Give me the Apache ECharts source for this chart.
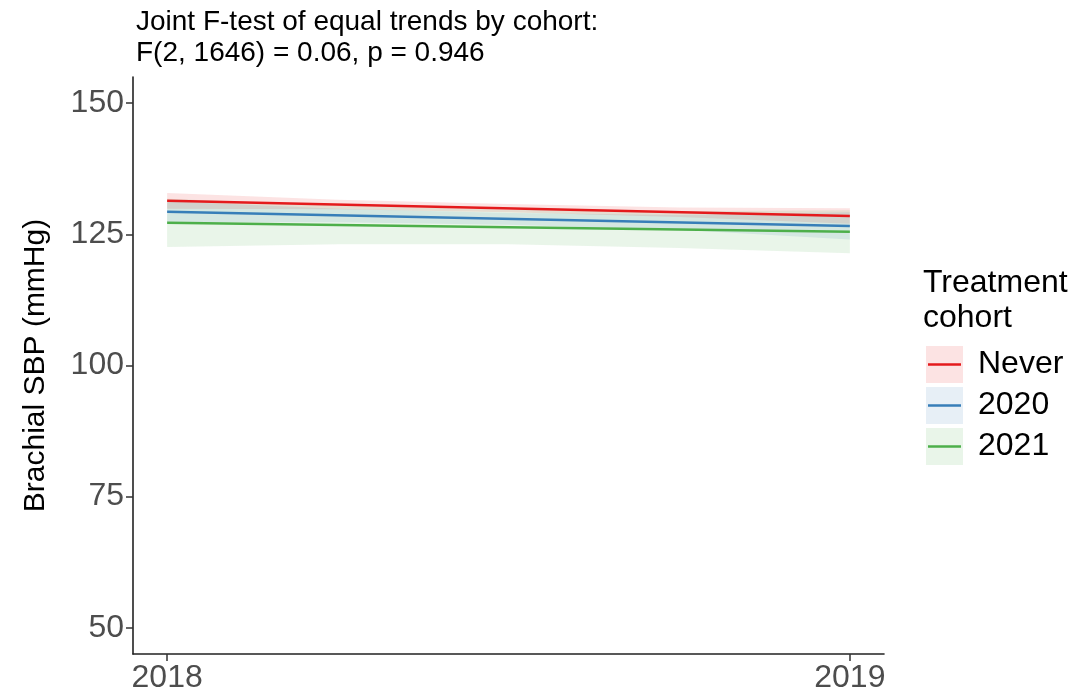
<!DOCTYPE html>
<html>
<head>
<meta charset="utf-8">
<script src="https://cdn.jsdelivr.net/npm/echarts@6/dist/echarts.min.js"></script>
<style>
html,body{margin:0;padding:0;background:#fff;}
#chart{width:1081px;height:695px;}
</style>
</head>
<body>
<div id="chart"></div>
<script>
// ---- data ----
const cohorts = ['Never', '2020', '2021'];
const colors = ['#E41A1C', '#377EB8', '#4DAF4A'];
const lineYears = [2018, 2019];
const lineNever = [131.4, 128.5];
const line2020 = [129.3, 126.6];
const line2021 = [127.2, 125.5];
const bandYears = [2018, 2018.25, 2018.5, 2018.75, 2019];
const lowerNever = [129.9, 129.8, 129.2, 128.3, 127.0];
const upperNever = [132.9, 131.6, 130.8, 130.1, 130.0];
const lower2020 = [127.3, 127.3, 126.85, 125.9, 124.0];
const upper2020 = [131.3, 129.9, 129.05, 128.7, 129.2];
const lower2021 = [122.6, 123.1, 123.1, 122.4, 121.4];
const upper2021 = [131.8, 130.5, 129.7, 129.4, 129.6];
const xTicks = [2018, 2019];
const yTicks = [50, 75, 100, 125, 150];
const titleLines = ['Joint F-test of equal trends by cohort:', 'F(2, 1646) = 0.06, p = 0.946'];
const yName = 'Brachial SBP (mmHg)';
const legendTitle = ['Treatment', 'cohort'];

const lines = [lineNever, line2020, line2021];
const lowers = [lowerNever, lower2020, lower2021];
const uppers = [upperNever, upper2020, upper2021];

function rgba(hex, a) {
  const n = parseInt(hex.slice(1), 16);
  return 'rgba(' + ((n >> 16) & 255) + ',' + ((n >> 8) & 255) + ',' + (n & 255) + ',' + a + ')';
}
const FILL_A = 0.12;
const FONT = '"Liberation Sans", Arial, Helvetica, sans-serif';

const series = [];
// confidence ribbons as polygons through the axis scales
cohorts.forEach((c, i) => {
  series.push({
    type: 'custom', name: c + '_band', silent: true, z: 1,
    data: bandYears.map((x, k) => [x, lowers[i][k], uppers[i][k]]),
    encode: { x: 0, y: [1, 2] },
    renderItem: function (params, api) {
      if (params.dataIndex !== 0) return null;
      const top = [], bot = [];
      for (let k = 0; k < bandYears.length; k++) {
        top.push(api.coord([bandYears[k], uppers[i][k]]));
        bot.push(api.coord([bandYears[k], lowers[i][k]]));
      }
      const pts = top.concat(bot.reverse());
      return {
        type: 'polygon',
        shape: { points: pts, smooth: 0 },
        style: { fill: rgba(colors[i], FILL_A), stroke: null }
      };
    }
  });
});
cohorts.forEach((c, i) => {
  series.push({
    type: 'line', name: c, silent: true,
    data: lineYears.map((x, k) => [x, lines[i][k]]),
    showSymbol: false, symbol: 'none',
    lineStyle: { color: colors[i], width: 2.6 }, z: 3
  });
});

// legend drawn as graphic
const graphics = [];
graphics.push({
  type: 'text', left: 923, top: 266,
  style: { text: legendTitle.join('\n'), font: '32px ' + FONT, fill: '#000', lineHeight: 35 }
});
cohorts.forEach((c, i) => {
  const y0 = 346 + i * 41;
  graphics.push({ type: 'rect', shape: { x: 926, y: y0, width: 37, height: 37 },
    style: { fill: rgba(colors[i], FILL_A) } });
  graphics.push({ type: 'line', shape: { x1: 928, y1: y0 + 18.5, x2: 961, y2: y0 + 18.5 },
    style: { stroke: colors[i], lineWidth: 2.6 } });
  graphics.push({ type: 'text', x: 978, y: y0 + 18.5,
    style: { text: c, font: '32px ' + FONT, fill: '#000', verticalAlign: 'middle', textVerticalAlign: 'middle' } });
});

const chart = echarts.init(document.getElementById('chart'), null, { renderer: 'canvas' });
chart.setOption({
  animation: false,
  backgroundColor: '#fff',
  title: {
    text: titleLines.join('\n'), left: 131, top: 2,
    textStyle: { fontFamily: FONT, fontSize: 28, fontWeight: 'normal', color: '#000', lineHeight: 31 }
  },
  grid: { left: 133, right: 197, top: 77, bottom: 41, containLabel: false },
  xAxis: {
    type: 'value', min: 2017.95, max: 2019.05,
    axisLine: { show: true, lineStyle: { color: '#222', width: 1.6 } },
    axisTick: { show: true, length: 7, lineStyle: { color: '#333', width: 1.5 }, customValues: xTicks },
    axisLabel: { customValues: xTicks, fontFamily: FONT, fontSize: 32, color: '#4D4D4D', margin: 8,
      formatter: v => String(v) },
    splitLine: { show: false }
  },
  yAxis: {
    type: 'value', min: 45, max: 155,
    name: yName, nameLocation: 'middle', nameRotate: 90, nameGap: 82,
    nameTextStyle: { fontFamily: FONT, fontSize: 30, color: '#000' },
    axisLine: { show: true, lineStyle: { color: '#222', width: 1.6 } },
    axisTick: { show: true, length: 7, lineStyle: { color: '#333', width: 1.5 }, customValues: yTicks },
    axisLabel: { customValues: yTicks, fontFamily: FONT, fontSize: 32, color: '#4D4D4D', margin: 9 },
    splitLine: { show: false }
  },
  graphic: graphics,
  series: series
});
</script>
</body>
</html>
